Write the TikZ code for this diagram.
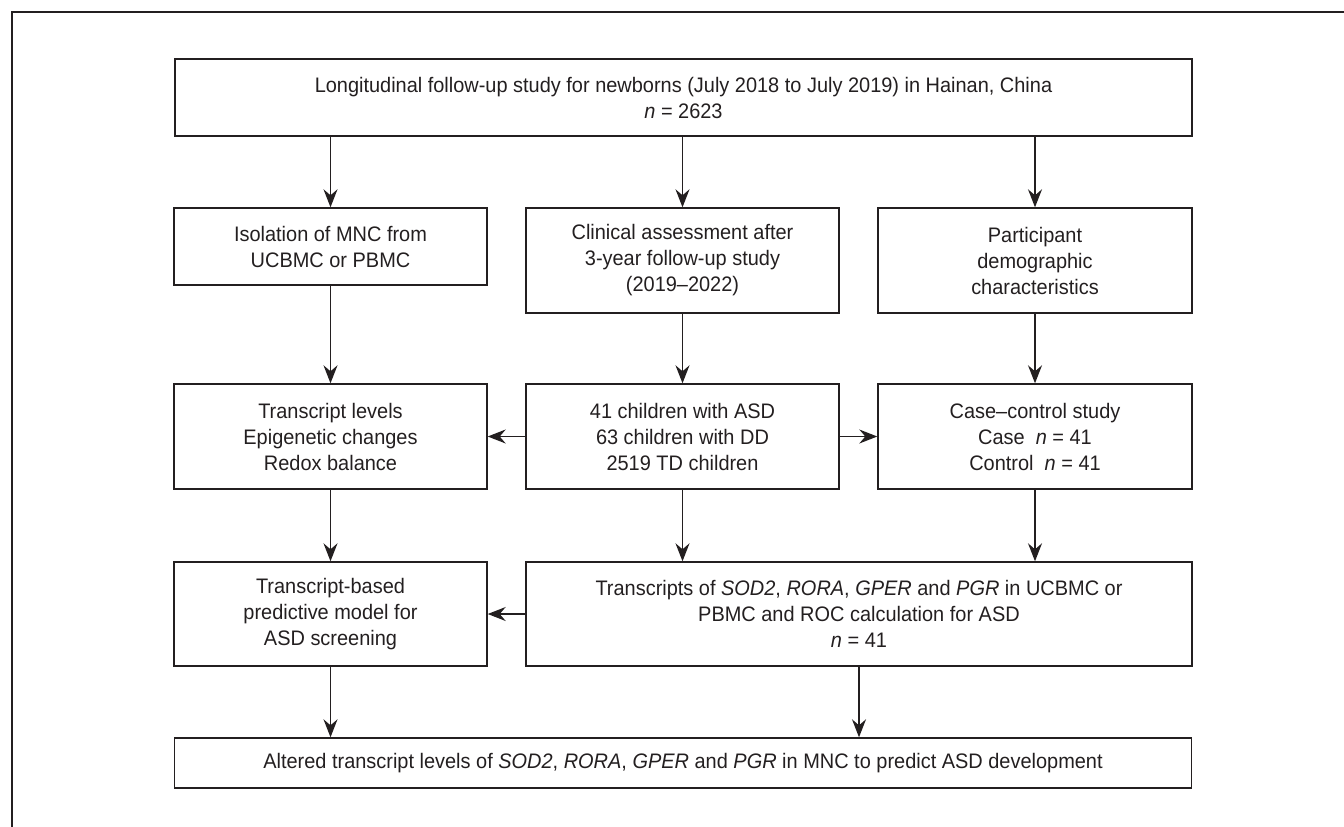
\documentclass[tikz,border=0pt]{standalone}
\usepackage{fontspec}
\setmainfont[FakeStretch=0.95]{Liberation Sans}
\usetikzlibrary{arrows.meta}
\definecolor{ink}{HTML}{231F20}
\begin{document}
\begin{tikzpicture}[x=1pt,y=-1pt,
  box/.style={draw=ink, line width=1.4pt, align=center, inner sep=0pt, text=ink,
    font=\fontsize{21}{26}\selectfont},
  arr/.style={draw=ink, line width=1.3pt, -{Stealth[length=18pt,width=14pt,inset=6pt]}},
]
\useasboundingbox (0,0) rectangle (1344,827);
\draw[ink, line width=1.5pt] (12,827) -- (12,12) -- (1344,12);

\node[box, minimum width=1017pt, minimum height=77pt] (top) at (683.5,97.5)
  {Longitudinal follow-up study for newborns (July 2018 to July 2019) in Hainan, China\\\textit{n} = 2623};

\node[box, minimum width=313pt, minimum height=77pt] (A2) at (330.5,246.5)
  {Isolation of MNC from\\UCBMC or PBMC};
\node[box, minimum width=313pt, minimum height=105pt] (B2) at (682.5,260.5)
  {Clinical assessment after\\3-year follow-up study\\(2019--2022)};
\node[box, minimum width=314pt, minimum height=105pt] (C2) at (1035,260.5)
  {Participant\\demographic\\characteristics};

\node[box, minimum width=313pt, minimum height=105pt] (A3) at (330.5,436.5)
  {Transcript levels\\Epigenetic changes\\Redox balance};
\node[box, minimum width=313pt, minimum height=105pt] (B3) at (682.5,436.5)
  {41 children with ASD\\63 children with DD\\2519 TD children};
\node[box, minimum width=314pt, minimum height=105pt] (C3) at (1035,436.5)
  {Case--control study\\Case\ \ \textit{n} = 41\\Control\ \ \textit{n} = 41};

\node[box, minimum width=313pt, minimum height=104pt] (A4) at (330.5,614)
  {Transcript-based\\predictive model for\\ASD screening};
\node[box, minimum width=666pt, minimum height=104pt] (B4) at (859,614)
  {Transcripts of \textit{SOD2}, \textit{RORA}, \textit{GPER} and \textit{PGR} in UCBMC or\\PBMC and ROC calculation for ASD\\\textit{n} = 41};

\node[box, minimum width=1017pt, minimum height=50pt] (bot) at (683,763)
  {Altered transcript levels of \textit{SOD2}, \textit{RORA}, \textit{GPER} and \textit{PGR} in MNC to predict ASD development};

\draw[arr] (top.south -| A2.north) -- (A2.north);
\draw[arr] (top.south -| B2.north) -- (B2.north);
\draw[arr] (top.south -| C2.north) -- (C2.north);

\draw[arr] (A2.south) -- (A3.north);
\draw[arr] (B2.south) -- (B3.north);
\draw[arr] (C2.south) -- (C3.north);

\draw[arr] (B3.west) -- (A3.east);
\draw[arr] (B3.east) -- (C3.west);

\draw[arr] (A3.south) -- (A4.north);
\draw[arr] (B3.south) -- (B3.south |- B4.north);
\draw[arr] (C3.south) -- (C3.south |- B4.north);

\draw[arr] (B4.west) -- (A4.east);

\draw[arr] (A4.south) -- (A4.south |- bot.north);
\draw[arr] (B4.south) -- (B4.south |- bot.north);
\end{tikzpicture}
\end{document}
